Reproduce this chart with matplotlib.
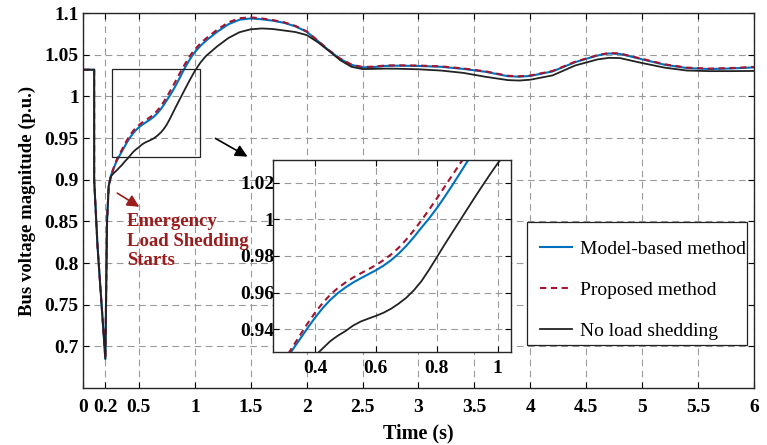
import numpy as np
import matplotlib.pyplot as plt
from matplotlib.patches import Rectangle, FancyArrowPatch

plt.rcParams['font.family'] = 'Liberation Serif'

# time axis (s) shared by the three curves
time_s = [0, 0.1, 0.1, 0.13, 0.2, 0.215, 0.23, 0.25, 0.275,
          0.3, 0.325, 0.35, 0.375, 0.4, 0.425, 0.45, 0.475, 0.5, 0.525, 0.55, 0.575,
          0.6, 0.625, 0.65, 0.675, 0.7, 0.725, 0.75, 0.775, 0.8, 0.825, 0.85, 0.875,
          0.9, 0.925, 0.95, 0.975, 1.0, 1.05,
          1.1, 1.2, 1.3, 1.4, 1.5, 1.6, 1.7, 1.8, 1.9, 2.0, 2.1, 2.2, 2.3, 2.4, 2.5,
          2.6, 2.7, 2.8, 3.0, 3.2, 3.4, 3.6, 3.8, 3.9, 4.0, 4.2, 4.4, 4.6, 4.7, 4.8,
          5.0, 5.2, 5.4, 5.6, 5.8, 6.0]

model_based = [1.032, 1.032, 0.90, 0.82, 0.685, 0.85, 0.892, 0.905, 0.914,
               0.922, 0.9285, 0.9345, 0.9405, 0.9463, 0.9515, 0.9560, 0.9597, 0.9628,
               0.9655, 0.9678, 0.9700, 0.9722, 0.9747, 0.9777, 0.9813, 0.9855, 0.9903,
               0.9955, 1.0005, 1.0060, 1.0120, 1.0183, 1.0248, 1.0314, 1.0375, 1.0432,
               1.0484, 1.0532, 1.0605,
               1.0668, 1.0775, 1.0865, 1.0920, 1.0935, 1.0925, 1.0908, 1.0882, 1.0840,
               1.0776, 1.0665, 1.0550, 1.0450, 1.0378, 1.0348, 1.0352, 1.0365, 1.0368,
               1.0365, 1.0355, 1.0330, 1.0295, 1.0242, 1.0236, 1.0245, 1.0300, 1.0410,
               1.0490, 1.0515, 1.0510, 1.0445, 1.0380, 1.0340, 1.0328, 1.0335, 1.0348]

proposed = [1.032, 1.032, 0.90, 0.82, 0.685, 0.85, 0.892, 0.905, 0.9145,
            0.9235, 0.9300, 0.9365, 0.9430, 0.9490, 0.9543, 0.9588, 0.9625, 0.9655,
            0.9682, 0.9705, 0.9727, 0.9750, 0.9777, 0.9808, 0.9845, 0.9890, 0.9940,
            0.9995, 1.0053, 1.0113, 1.0175, 1.0238, 1.0300, 1.0360, 1.0418, 1.0472,
            1.0520, 1.0563, 1.0635,
            1.0695, 1.0800, 1.0888, 1.0938, 1.0948, 1.0935, 1.0915, 1.0888, 1.0845,
            1.0780, 1.0668, 1.0553, 1.0453, 1.0382, 1.0352, 1.0357, 1.0370, 1.0373,
            1.0370, 1.0360, 1.0335, 1.0300, 1.0247, 1.0241, 1.0250, 1.0305, 1.0415,
            1.0495, 1.0520, 1.0515, 1.0450, 1.0385, 1.0345, 1.0333, 1.0340, 1.0353]

no_shedding = [1.032, 1.032, 0.90, 0.82, 0.685, 0.85, 0.893, 0.904, 0.908,
               0.911, 0.9145, 0.918, 0.922, 0.9255, 0.9295, 0.9335, 0.9365, 0.9390,
               0.9420, 0.9442, 0.9458, 0.9473, 0.9490, 0.9512, 0.9540, 0.9572, 0.9613,
               0.9663, 0.9725, 0.9792, 0.9860, 0.9925, 0.9990, 1.0055, 1.0120, 1.0183,
               1.0245, 1.0305, 1.0405,
               1.0485, 1.0600, 1.0700, 1.0770, 1.0805, 1.0815, 1.0808, 1.0790, 1.0772,
               1.0736, 1.0650, 1.0545, 1.0435, 1.0355, 1.0328, 1.0330, 1.0333, 1.0332,
               1.0325, 1.0310, 1.0282, 1.0235, 1.0195, 1.0190, 1.0200, 1.0252, 1.0370,
               1.0443, 1.0462, 1.0460, 1.0400, 1.0345, 1.0310, 1.0303, 1.0303, 1.0305]

x_ticks = [0, 0.2, 0.5, 1, 1.5, 2, 2.5, 3, 3.5, 4, 4.5, 5, 5.5, 6]
y_ticks = [0.7, 0.75, 0.8, 0.85, 0.9, 0.95, 1.0, 1.05, 1.1]
inset_xticks = [0.4, 0.6, 0.8, 1.0]
inset_yticks = [0.94, 0.96, 0.98, 1.0, 1.02]
inset_xlim = (0.263, 1.044)
inset_ylim = (0.9276, 1.0324)
note_lines = ['Emergency', 'Load Shedding', 'Starts']

blue = '#0072BD'
red = '#A2142F'
dark_red = '#9B1C1C'
black = '#222222'


def style_axes(a, size):
    a.grid(True, color='#9a9a9a', linestyle=(0, (6, 4)), linewidth=0.8)
    a.tick_params(direction='in', top=True, right=True, length=4, labelsize=size)
    for lab in a.get_xticklabels() + a.get_yticklabels():
        lab.set_fontweight('bold')
    for s in a.spines.values():
        s.set_color('#262626')
        s.set_linewidth(1.0)


def draw_curves(a):
    h1, = a.plot(time_s, model_based, color=blue, lw=1.5, label='Model-based method')
    h2, = a.plot(time_s, proposed, color=red, lw=1.5, ls=(0, (3, 2.2)), label='Proposed method')
    h3, = a.plot(time_s, no_shedding, color=black, lw=1.3, label='No load shedding')
    return h1, h2, h3


fig = plt.figure(figsize=(7.67, 4.45), dpi=100)
ax = fig.add_axes([0.1082, 0.128, 0.8748, 0.8427])
handles = draw_curves(ax)

ax.set_xlim(0, 6)
ax.set_ylim(0.65, 1.1)
ax.set_xticks(x_ticks)
ax.set_xticklabels([f'{v:g}' for v in x_ticks])
ax.set_yticks(y_ticks)
ax.set_yticklabels([f'{v:g}' for v in y_ticks])
style_axes(ax, 14)
ax.tick_params(axis='x', pad=8)
ax.tick_params(axis='y', pad=3)
ax.set_xlabel('Time (s)', fontsize=14.5, fontweight='bold', labelpad=5)
ax.set_ylabel('Bus voltage magnitude (p.u.)', fontsize=13.5, fontweight='bold', labelpad=6)

# zoom box on the main axes
ax.add_patch(Rectangle((inset_xlim[0], inset_ylim[0]), inset_xlim[1] - inset_xlim[0],
                       inset_ylim[1] - inset_ylim[0], fill=False, ec=black, lw=0.9, zorder=4))

# legend with its own frame (frame drawn inside the main axes, below the legend)
ax.add_patch(Rectangle((527 / 767, 1 - 345 / 445), 220 / 767, 123 / 445, transform=fig.transFigure,
                       fc='white', ec=black, lw=0.9, zorder=5, clip_on=False))
leg = ax.legend(handles=handles, loc='upper left', bbox_to_anchor=(540 / 767, 1 - 240 / 445),
                bbox_transform=fig.transFigure, prop={'family': 'Liberation Serif', 'size': 14},
                frameon=False, borderpad=0, labelspacing=1.2, handlelength=1.65,
                handletextpad=0.42, borderaxespad=0)
leg.set_zorder(6)

# arrows and annotation
fig.patches.append(FancyArrowPatch((0.2777, 0.6921), (0.3259, 0.6449), transform=fig.transFigure,
                                   arrowstyle='-|>', mutation_scale=18, color='black', lw=1.2))
fig.patches.append(FancyArrowPatch((0.1499, 0.5692), (0.1847, 0.5319), transform=fig.transFigure,
                                   arrowstyle='-|>', mutation_scale=18, color=dark_red, lw=1.2))
for i, line in enumerate(note_lines):
    fig.text(0.1656, 0.4921 - i * 0.0438, line, color=dark_red, fontsize=13.5,
             fontweight='bold', va='baseline', ha='left')

# inset
axin = fig.add_axes([0.3563, 0.2090, 0.3099, 0.4315])
draw_curves(axin)
axin.set_xlim(*inset_xlim)
axin.set_ylim(*inset_ylim)
axin.set_xticks(inset_xticks)
axin.set_xticklabels([f'{v:g}' for v in inset_xticks])
axin.set_yticks(inset_yticks)
axin.set_yticklabels([f'{v:g}' for v in inset_yticks])
style_axes(axin, 14)
axin.tick_params(axis='x', pad=6)
axin.tick_params(axis='y', pad=-1)

plt.savefig('out.png', dpi=100)
